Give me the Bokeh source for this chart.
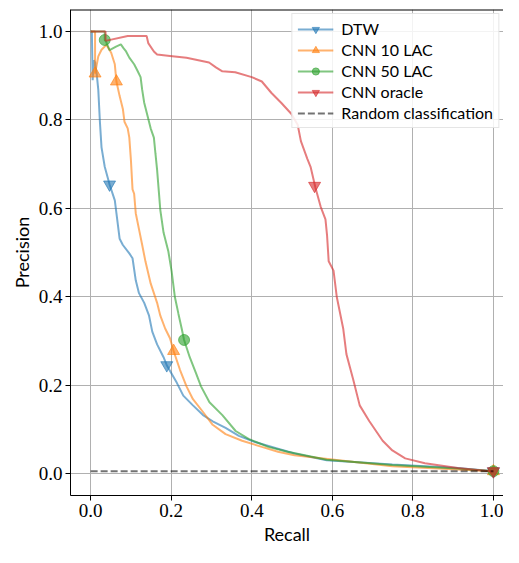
from bokeh.plotting import figure
from bokeh.models import Range1d, Legend, LegendItem, Span, FixedTicker, PrintfTickFormatter
from bokeh.embed import file_html
from bokeh.resources import INLINE

# ---------------- data ----------------
dtw_recall = [0.0, 0.003, 0.005, 0.008, 0.011, 0.015, 0.019, 0.023, 0.027, 0.035, 0.047,
              0.060, 0.064, 0.072, 0.080, 0.096, 0.104, 0.112, 0.120, 0.133, 0.145,
              0.153, 0.165, 0.181, 0.189, 0.214, 0.230, 0.254, 0.279, 0.303, 0.335,
              0.368, 0.408, 0.465, 0.506, 0.586, 0.749, 0.911, 1.0]
dtw_precision = [1.0, 1.0, 0.89, 0.935, 0.93, 0.905, 0.868, 0.796, 0.738, 0.694, 0.654,
                 0.618, 0.589, 0.531, 0.517, 0.498, 0.487, 0.437, 0.408, 0.386, 0.357,
                 0.321, 0.292, 0.263, 0.245, 0.205, 0.176, 0.154, 0.132, 0.118, 0.103,
                 0.085, 0.071, 0.056, 0.045, 0.030, 0.020, 0.012, 0.005]
dtw_marker_recall = [0.047, 0.189, 1.0]
dtw_marker_precision = [0.654, 0.245, 0.005]

cnn10_recall = [0.0, 0.011, 0.011, 0.019, 0.027, 0.039, 0.051, 0.060, 0.064, 0.072, 0.080,
                0.084, 0.092, 0.096, 0.100, 0.104, 0.108, 0.112, 0.120, 0.128, 0.136,
                0.149, 0.157, 0.165, 0.173, 0.185, 0.197, 0.206, 0.222, 0.238, 0.254,
                0.279, 0.303, 0.335, 0.376, 0.425, 0.465, 0.506, 0.749, 1.0]
cnn10_precision = [1.0, 1.0, 0.905, 0.944, 0.959, 0.970, 0.952, 0.926, 0.887, 0.854, 0.825,
                   0.796, 0.781, 0.760, 0.709, 0.643, 0.633, 0.589, 0.553, 0.517, 0.480,
                   0.430, 0.408, 0.386, 0.357, 0.328, 0.306, 0.277, 0.234, 0.197, 0.168,
                   0.139, 0.110, 0.089, 0.074, 0.060, 0.049, 0.041, 0.016, 0.005]
cnn10_marker_recall = [0.011, 0.064, 0.206, 1.0]
cnn10_marker_precision = [0.905, 0.887, 0.277, 0.005]

cnn50_recall = [0.0, 0.035, 0.035, 0.038, 0.047, 0.063, 0.075, 0.082, 0.088, 0.096, 0.108,
                0.116, 0.124, 0.128, 0.133, 0.141, 0.149, 0.157, 0.161, 0.165, 0.173,
                0.181, 0.193, 0.201, 0.209, 0.218, 0.226, 0.232, 0.246, 0.262, 0.274,
                0.295, 0.327, 0.360, 0.392, 0.441, 0.489, 0.586, 0.749, 0.911, 1.0]
cnn50_precision = [1.0, 1.0, 0.981, 0.978, 0.958, 0.966, 0.971, 0.962, 0.955, 0.941, 0.926,
                   0.912, 0.897, 0.868, 0.839, 0.810, 0.781, 0.760, 0.723, 0.687, 0.596,
                   0.545, 0.502, 0.458, 0.400, 0.361, 0.328, 0.302, 0.263, 0.226, 0.197,
                   0.161, 0.132, 0.096, 0.078, 0.060, 0.049, 0.031, 0.019, 0.011, 0.005]
cnn50_marker_recall = [0.035, 0.232, 1.0]
cnn50_marker_precision = [0.981, 0.302, 0.005]

oracle_recall = [0.0, 0.037, 0.037, 0.092, 0.139, 0.143, 0.157, 0.165, 0.197, 0.238, 0.294,
                 0.311, 0.327, 0.359, 0.400, 0.425, 0.449, 0.473, 0.498, 0.514, 0.522,
                 0.538, 0.546, 0.558, 0.571, 0.583, 0.587, 0.591, 0.603, 0.611, 0.627,
                 0.635, 0.652, 0.668, 0.692, 0.725, 0.749, 0.781, 0.830, 0.911, 0.992, 1.0]
oracle_precision = [1.0, 1.0, 0.979, 0.990, 0.990, 0.974, 0.955, 0.948, 0.945, 0.941, 0.930,
                    0.919, 0.910, 0.908, 0.897, 0.887, 0.861, 0.839, 0.814, 0.789, 0.752,
                    0.712, 0.694, 0.647, 0.604, 0.575, 0.538, 0.480, 0.459, 0.400, 0.328,
                    0.270, 0.212, 0.154, 0.118, 0.074, 0.052, 0.034, 0.023, 0.012, 0.005, 0.005]
oracle_marker_recall = [0.556, 1.0]
oracle_marker_precision = [0.651, 0.005]

random_recall = [0.0, 1.0]
random_precision = [0.005, 0.005]

x_ticks = [0.0, 0.2, 0.4, 0.6, 0.8, 1.0]
y_ticks = [0.0, 0.2, 0.4, 0.6, 0.8, 1.0]

# ---------------- figure ----------------
p = figure(width=503, height=547, output_backend="svg", toolbar_location=None,
           x_range=Range1d(-0.05, 1.025), y_range=Range1d(-0.05, 1.05),
           min_border_left=70, min_border_top=9, min_border_right=0, min_border_bottom=4)
p.outline_line_color = None
p.background_fill_color = "white"

for ax, lab, ticks in ((p.xaxis, "Recall", x_ticks), (p.yaxis, "Precision", y_ticks)):
    ax.ticker = FixedTicker(ticks=ticks)
    ax.formatter = PrintfTickFormatter(format="%.1f")
    ax.axis_label = lab
    ax.axis_label_text_font = "Lato"
    ax.axis_label_text_font_size = "18px"
    ax.axis_label_text_font_style = "normal"
    ax.axis_label_text_color = "black"
    ax.axis_label_standoff = 3
    ax.major_label_text_font = "Liberation Serif"
    ax.major_label_text_font_size = "19px"
    ax.major_label_text_color = "black"
    ax.major_label_standoff = 3
    ax.axis_line_color = "black"
    ax.axis_line_width = 1
    ax.major_tick_line_color = "black"
    ax.major_tick_out = 5
    ax.major_tick_in = 0
    ax.minor_tick_line_color = None

p.grid.grid_line_color = "#b0b0b0"
p.grid.grid_line_width = 1

p.add_layout(Span(location=1.05, dimension="width", line_color="black", line_width=2))

series = [
    ("DTW", dtw_recall, dtw_precision, dtw_marker_recall, dtw_marker_precision,
     "#1f77b4", "inverted_triangle", 12),
    ("CNN 10 LAC", cnn10_recall, cnn10_precision, cnn10_marker_recall, cnn10_marker_precision,
     "#ff7f0e", "triangle", 12),
    ("CNN 50 LAC", cnn50_recall, cnn50_precision, cnn50_marker_recall, cnn50_marker_precision,
     "#2ca02c", "circle", 11),
    ("CNN oracle", oracle_recall, oracle_precision, oracle_marker_recall, oracle_marker_precision,
     "#d62728", "inverted_triangle", 12),
]

items = []
for label, xr, yp, mx, my, col, mk, sz in series:
    lr = p.line(xr, yp, line_color=col, line_width=2, line_alpha=0.6)
    sr = p.scatter(mx, my, marker=mk, size=sz, fill_color=col, line_color=col,
                   fill_alpha=0.6, line_alpha=0.6)
    items.append(LegendItem(label=label, renderers=[lr, sr]))

rr = p.line(random_recall, random_precision, line_color="black", line_alpha=0.55,
            line_width=2, line_dash="7 3")
items.append(LegendItem(label="Random classification", renderers=[rr]))

legend = Legend(items=items, location="top_right")
legend.label_text_font = "Lato"
legend.label_text_font_size = "16px"
legend.label_text_color = "black"
legend.glyph_width = 36
legend.glyph_height = 18
legend.label_height = 18
legend.label_standoff = 8
legend.spacing = 2
legend.padding = 5
legend.margin = 4
legend.border_line_color = "#cccccc"
legend.border_line_width = 1
legend.background_fill_alpha = 0.85
p.add_layout(legend)

open("out.html", "w").write(file_html(p, INLINE))
